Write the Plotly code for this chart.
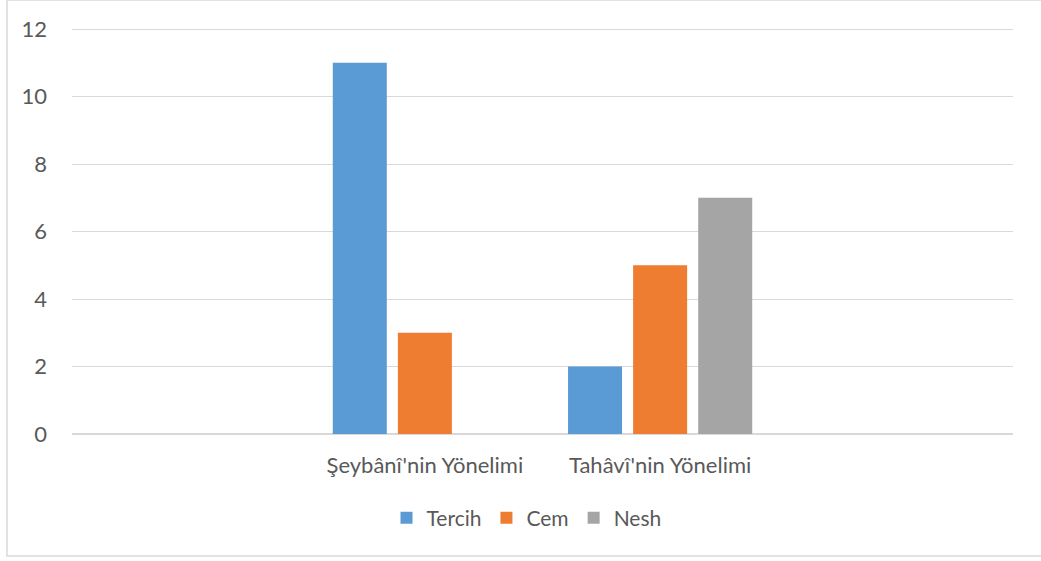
import plotly.graph_objects as go

categories = ["", "Şeybânî'nin Yönelimi", "Tahâvî'nin Yönelimi", ""]
series_names = ["Tercih", "Cem", "Nesh"]
tercih = [None, 11, 2, None]
cem = [None, 3, 5, None]
nesh = [None, 0, 7, None]
y_ticks = [0, 2, 4, 6, 8, 10, 12]

colors = ["#5B9BD5", "#EF7D31", "#A5A5A5"]

x_pos = list(range(len(categories)))

fig = go.Figure()
for name, vals, c in zip(series_names, [tercih, cem, nesh], colors):
    fig.add_trace(go.Bar(
        x=x_pos, y=vals, name=name,
        marker=dict(color=c, line=dict(width=0)),
    ))

font_family = "Lato, 'Open Sans', sans-serif"
txt = "#595959"
fs = 22

fig.update_layout(
    width=1041, height=561,
    margin=dict(l=72, r=28, t=28, b=127, autoexpand=False),
    paper_bgcolor="white", plot_bgcolor="white",
    barmode="group", bargap=0.17, bargroupgap=0.17,
    font=dict(family=font_family, size=fs, color=txt),
    showlegend=True,
    legend=dict(orientation="h", x=0.483, xanchor="center", y=-0.207, yanchor="middle",
                font=dict(size=21, color=txt), itemclick=False, itemwidth=30),
    xaxis=dict(range=[-0.5, 3.5], tickmode="array", tickvals=x_pos, ticktext=categories,
               showgrid=False, zeroline=False, showline=False, ticks="",
               ticklabelstandoff=16, tickfont=dict(size=fs, color=txt), fixedrange=True),
    yaxis=dict(range=[0, 12.03], tickmode="array", tickvals=y_ticks,
               showgrid=True, gridcolor="#d9d9d9", gridwidth=1.3,
               zeroline=True, zerolinecolor="#d9d9d9", zerolinewidth=1.5,
               showline=False, ticks="", ticklabelstandoff=24,
               tickfont=dict(size=fs, color=txt), fixedrange=True),
    shapes=[dict(type="rect", xref="paper", yref="paper",
                 x0=-0.0691, x1=1.034, y0=-0.3005, y1=1.069,
                 line=dict(color="#d9d9d9", width=1.5), fillcolor="rgba(0,0,0,0)",
                 layer="below")],
)

fig.write_html("out.html", config={"displayModeBar": False},
               post_script="document.body.style.margin='0';")
